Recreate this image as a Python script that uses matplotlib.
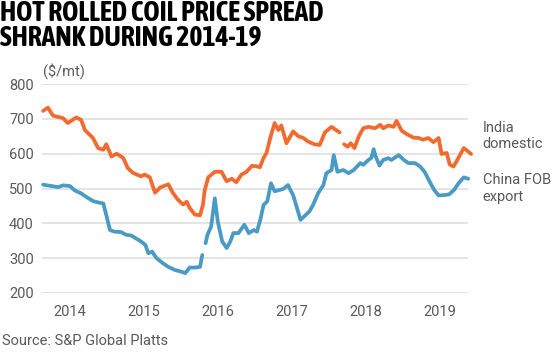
import matplotlib
matplotlib.use("Agg")
import matplotlib.pyplot as plt
from matplotlib import font_manager
import numpy as np

# fractional year, $/mt; None marks a gap in the data
india_t = [2013.635, 2013.70, 2013.77, 2013.905, 2013.97, 2014.085, 2014.15, 2014.20,
           2014.31, 2014.38, 2014.45, 2014.49, 2014.56, 2014.63, 2014.72, 2014.78,
           2014.85, 2014.96, 2015.01, 2015.08, 2015.15, 2015.22, 2015.33, 2015.39,
           2015.46, 2015.53, 2015.58, 2015.62, 2015.69, 2015.76, 2015.80, 2015.82,
           2015.87, 2015.96, 2016.05, 2016.12, 2016.19, 2016.25, 2016.32, 2016.39,
           2016.46, 2016.52, 2016.57, 2016.62, 2016.66, 2016.71, 2016.77, 2016.82,
           2016.86, 2016.93, 2017.02, 2017.09, 2017.16, 2017.22, 2017.31, 2017.38,
           2017.45, 2017.54, 2017.60, 2017.65, 2017.68, 2017.71, 2017.76, 2017.80,
           2017.85, 2017.91, 2017.97, 2018.04, 2018.13, 2018.20, 2018.24, 2018.31,
           2018.38, 2018.42, 2018.49, 2018.56, 2018.65, 2018.72, 2018.78, 2018.85,
           2018.92, 2018.99, 2019.03, 2019.10, 2019.14, 2019.19, 2019.23, 2019.33,
           2019.38, 2019.43]
india_v = [723, 732, 709, 702, 688, 704, 697, 668,
           645, 616, 611, 627, 592, 600, 588, 559,
           545, 535, 540, 532, 488, 503, 512, 488,
           468, 454, 462, 444, 425, 423, 454, 492,
           532, 548, 548, 521, 528, 518, 540, 548,
           565, 564, 561, 588, 602, 645, 688, 668,
           681, 630, 664, 650, 645, 635, 627, 625,
           661, 677, 668, 661, None, 627, 620, 630,
           616, 650, 673, 677, 673, 683, 673, 681,
           677, 694, 666, 656, 646, 645, 640, 645,
           633, 645, 599, 602, 569, 563, 577, 616,
           608, 599]

china_t = [2013.635, 2013.75, 2013.84, 2013.905, 2014.0, 2014.06, 2014.15, 2014.24,
           2014.31, 2014.38, 2014.45, 2014.49, 2014.54, 2014.60, 2014.69, 2014.76,
           2014.83, 2014.89, 2014.96, 2015.02, 2015.06, 2015.11, 2015.17, 2015.26,
           2015.33, 2015.42, 2015.51, 2015.56, 2015.62, 2015.69, 2015.76, 2015.79,
           2015.81, 2015.835, 2015.86, 2015.91, 2015.96, 2016.00, 2016.06, 2016.12,
           2016.17, 2016.21, 2016.28, 2016.36, 2016.42, 2016.49, 2016.53, 2016.58,
           2016.62, 2016.67, 2016.72, 2016.77, 2016.84, 2016.89, 2016.95, 2017.02,
           2017.06, 2017.12, 2017.17, 2017.24, 2017.29, 2017.36, 2017.43, 2017.47,
           2017.54, 2017.57, 2017.62, 2017.70, 2017.77, 2017.84, 2017.93, 2017.97,
           2018.04, 2018.08, 2018.11, 2018.14, 2018.19, 2018.24, 2018.31, 2018.35,
           2018.45, 2018.52, 2018.58, 2018.67, 2018.74, 2018.80, 2018.87, 2018.93,
           2018.99, 2019.06, 2019.13, 2019.20, 2019.26, 2019.33, 2019.39]
china_v = [511, 507, 504, 509, 507, 495, 486, 473,
           464, 460, 457, 424, 381, 376, 375, 367,
           365, 357, 348, 338, 314, 319, 300, 285,
           275, 266, 261, 257, 273, 273, 275, 309,
           None, 343, 367, 391, 472, 405, 348, 329,
           348, 372, 372, 396, 372, 381, 376, 414,
           453, 463, 515, 492, 496, 499, 510, 481,
           453, 410, 420, 434, 453, 487, 510, 544,
           553, 596, 548, 553, 544, 553, 573, 568,
           582, 588, 613, 591, 566, 582, 587, 582,
           596, 582, 573, 573, 563, 548, 519, 496,
           480, 481, 483, 496, 515, 532, 528]

years = [2014, 2015, 2016, 2017, 2018, 2019]
yticks = [200, 300, 400, 500, 600, 700, 800]

ORANGE = "#f26a2e"
BLUE = "#4a9ac6"
GREY = "#5a5a5a"


def arr(v):
    return np.array([np.nan if x is None else x for x in v], float)


def title_font():
    # a narrow bold face if one is installed, else Roboto bold
    for f in font_manager.fontManager.ttflist:
        n = f.name.lower()
        if ("narrow" in n or "condensed" in n) and f.weight in ("bold", 700):
            return font_manager.FontProperties(fname=f.fname, size=20)
    for f in font_manager.fontManager.ttflist:
        if f.stretch in ("condensed", "semi-condensed") and f.weight in ("bold", 700):
            return font_manager.FontProperties(fname=f.fname, size=20)
    return font_manager.FontProperties(family="Roboto", weight="bold", size=15)


fig = plt.figure(figsize=(5.6, 3.53), dpi=100)
ax = fig.add_axes([0.075, 0.17, 0.761, 0.592])

ax.plot(india_t, arr(india_v), color=ORANGE, lw=2.7, solid_capstyle="round",
        solid_joinstyle="round", clip_on=False)
ax.plot(china_t, arr(china_v), color=BLUE, lw=2.7, solid_capstyle="round",
        solid_joinstyle="round", clip_on=False)

ax.set_xlim(2013.62, 2019.39)
ax.set_ylim(200, 800)
ax.set_yticks(yticks)
ax.set_xticks(years, [str(y) for y in years])
ax.grid(axis="y", color="#dddddd", lw=1.1)
ax.set_axisbelow(True)
for s in ax.spines.values():
    s.set_visible(False)
ax.tick_params(length=0, labelsize=10.5, colors=GREY, labelfontfamily="Roboto")
ax.tick_params(axis="y", pad=6)
ax.tick_params(axis="x", pad=9)

fig.text(0.0, 1.0, "HOT ROLLED COIL PRICE SPREAD\nSHRANK DURING 2014-19",
         ha="left", va="top", fontproperties=title_font(), color="black",
         linespacing=0.92)
fig.text(0.077, 0.777, "($/mt)", ha="left", va="bottom", fontsize=10.5,
         family="Roboto", color=GREY)
fig.text(0.862, 0.615, "India\ndomestic", ha="left", va="center", fontsize=10.5,
         family="Roboto", color=GREY, linespacing=1.25)
fig.text(0.862, 0.465, "China FOB\nexport", ha="left", va="center", fontsize=10.5,
         family="Roboto", color=GREY, linespacing=1.25)
fig.text(0.003, 0.035, "Source: S&P Global Platts", ha="left", va="center",
         fontsize=10.5, family="Roboto", color=GREY)

fig.savefig("out.png", dpi=100)
